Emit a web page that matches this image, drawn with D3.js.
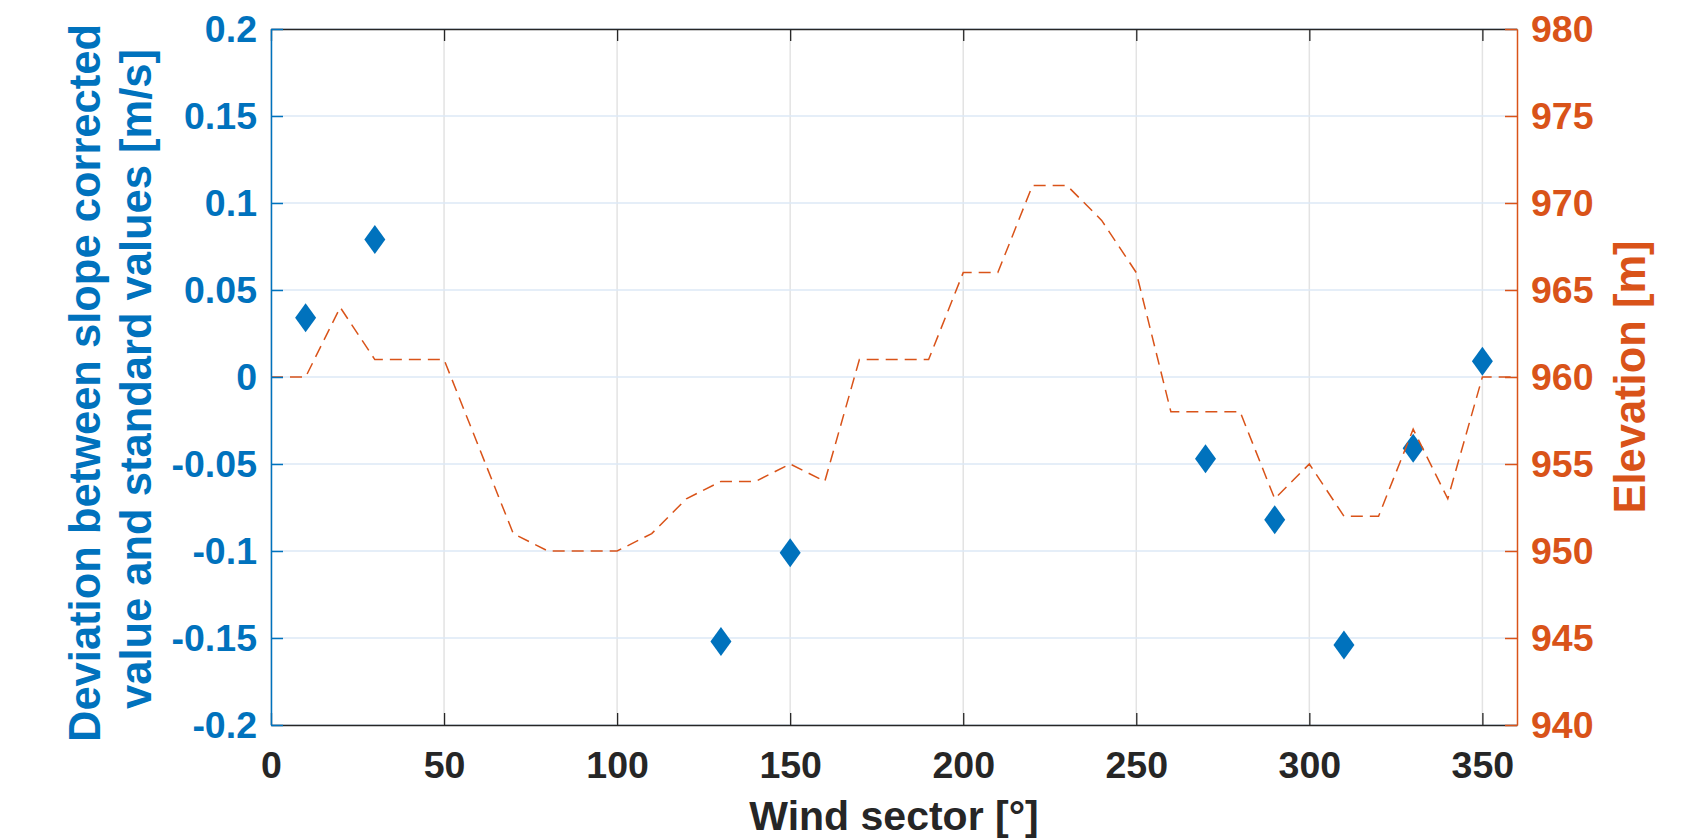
<!doctype html>
<html>
<head>
    <meta charset="UTF-8">
    <title>Deviation and elevation by wind sector</title>
    <script src="https://d3js.org/d3.v7.min.js"></script>
    <style>
        body { margin: 0; background: #fff; }
        text { font-family: "Liberation Sans", Arial, sans-serif; font-weight: bold; }
    </style>
</head>
<body>
<script>
    // measured points (left axis)
    var sectors = [10, 30, 130, 150, 270, 290, 310, 330, 350];
    var deviation = [0.034, 0.079, -0.152, -0.101, -0.047, -0.082, -0.154, -0.041, 0.009];

    // elevation profile (right axis)
    var elevAngle = [0, 10, 20, 30, 40, 50, 60, 70, 80, 90, 100, 110, 120, 130, 140, 150, 160, 170, 180,
        190, 200, 210, 220, 230, 240, 250, 260, 270, 280, 290, 300, 310, 320, 330, 340, 350, 360];
    var elevation = [960, 960, 964, 961, 961, 961, 956, 951, 950, 950, 950, 951, 953, 954, 954, 955, 954, 961, 961,
        961, 966, 966, 971, 971, 969, 966, 958, 958, 958, 953, 955, 952, 952, 957, 953, 960, 960];

    var xTicks = [0, 50, 100, 150, 200, 250, 300, 350];
    var leftTicks = [-0.2, -0.15, -0.1, -0.05, 0, 0.05, 0.1, 0.15, 0.2];
    var rightTicks = [940, 945, 950, 955, 960, 965, 970, 975, 980];

    var w = 1707, h = 840;
    var L = 271, T = 29, R = 1517, B = 725;
    var blue = "#0072BD", orange = "#D95319", dark = "#262626";

    var svg = d3.select("body").append("svg").attr("width", w).attr("height", h);

    var x = d3.scaleLinear().domain([0, 360]).range([L, R]);
    var yL = d3.scaleLinear().domain([-0.2, 0.2]).range([B, T]);
    var yR = d3.scaleLinear().domain([940, 980]).range([B, T]);

    // grid
    svg.append("g").selectAll("line").data(xTicks).enter().append("line")
        .attr("x1", d => x(d)).attr("x2", d => x(d)).attr("y1", T).attr("y2", B)
        .attr("stroke", "#e3e3e3").attr("stroke-width", 1.5);
    svg.append("g").selectAll("line").data(leftTicks).enter().append("line")
        .attr("x1", L).attr("x2", R).attr("y1", d => yL(d)).attr("y2", d => yL(d))
        .attr("stroke", "#dde9f6").attr("stroke-width", 1.3);

    // diamonds
    svg.append("g").selectAll("path").data(sectors).enter().append("path")
        .attr("d", "M0,-14.5L10.5,0L0,14.5L-10.5,0Z")
        .attr("transform", (d, i) => "translate(" + x(d) + "," + yL(deviation[i]) + ")")
        .attr("fill", blue);

    // elevation line
    var line = d3.line().x((d, i) => x(elevAngle[i])).y(d => yR(d));
    svg.append("path").datum(elevation).attr("d", line)
        .attr("fill", "none").attr("stroke", orange).attr("stroke-width", 1.5)
        .attr("stroke-dasharray", "12,7");

    function fmt(d) { return String(+d.toFixed(2)); }

    // axes
    var gx = svg.append("g").attr("transform", "translate(0," + B + ")")
        .call(d3.axisBottom(x).tickValues(xTicks).tickSize(-12).tickSizeOuter(0).tickPadding(26).tickFormat(fmt));
    var gt = svg.append("g").attr("transform", "translate(0," + T + ")")
        .call(d3.axisTop(x).tickValues(xTicks).tickSize(-12).tickSizeOuter(0).tickFormat(""));
    [gx, gt].forEach(function (g) {
        g.select(".domain").attr("stroke", dark).attr("stroke-width", 1.3);
        g.selectAll(".tick line").attr("stroke", dark).attr("stroke-width", 1.3);
        g.selectAll("text").attr("fill", dark).attr("font-size", 37.5)
            .style("font-family", '"Liberation Sans", Arial, sans-serif').style("font-weight", "bold");
    });

    var gl = svg.append("g").attr("transform", "translate(" + L + ",0)")
        .call(d3.axisLeft(yL).tickValues(leftTicks).tickSize(-12).tickSizeOuter(0).tickPadding(14).tickFormat(fmt));
    gl.select(".domain").attr("stroke", blue).attr("stroke-width", 1.5);
    gl.selectAll(".tick line").attr("stroke", blue).attr("stroke-width", 1.5);
    gl.selectAll("text").attr("fill", blue).attr("font-size", 37.5)
        .style("font-family", '"Liberation Sans", Arial, sans-serif').style("font-weight", "bold");

    var gr = svg.append("g").attr("transform", "translate(" + R + ",0)")
        .call(d3.axisRight(yR).tickValues(rightTicks).tickSize(-12).tickSizeOuter(0).tickPadding(14));
    gr.select(".domain").attr("stroke", orange).attr("stroke-width", 1.5);
    gr.selectAll(".tick line").attr("stroke", orange).attr("stroke-width", 1.5);
    gr.selectAll("text").attr("fill", orange).attr("font-size", 37.5)
        .style("font-family", '"Liberation Sans", Arial, sans-serif').style("font-weight", "bold");

    // axis titles
    svg.append("text").attr("x", (L + R) / 2).attr("y", 830).attr("text-anchor", "middle")
        .attr("font-size", 41).attr("fill", dark).text("Wind sector [°]");

    svg.append("text").attr("transform", "translate(100,383) rotate(-90)").attr("text-anchor", "middle")
        .attr("font-size", 43.5).attr("fill", blue).text("Deviation between slope corrected");
    svg.append("text").attr("transform", "translate(151,379) rotate(-90)").attr("text-anchor", "middle")
        .attr("font-size", 43.5).attr("fill", blue).text("value and standard values [m/s]");

    svg.append("text").attr("transform", "translate(1645,377) rotate(-90)").attr("text-anchor", "middle")
        .attr("font-size", 43.5).attr("fill", orange).text("Elevation [m]");
</script>
</body>
</html>
